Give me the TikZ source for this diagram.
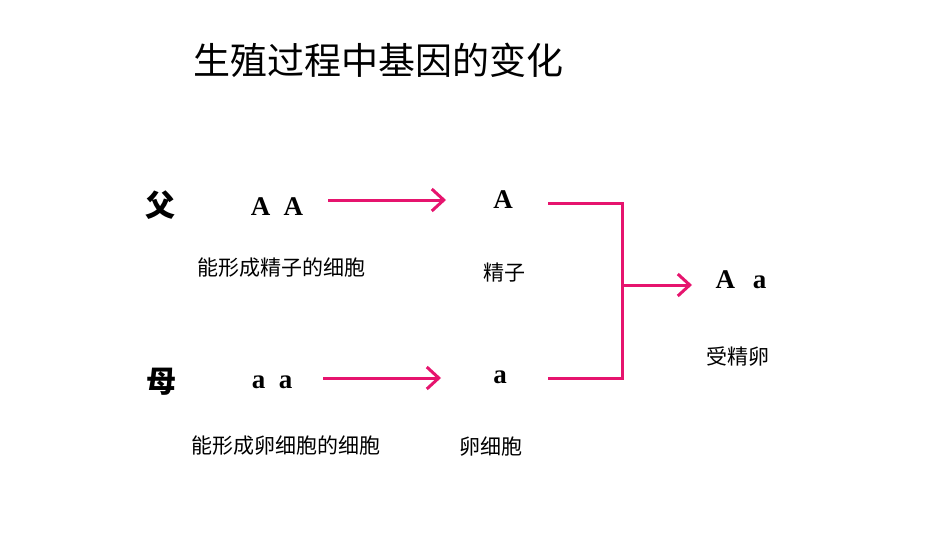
\documentclass[tikz,border=0pt]{standalone}
\usepackage{fontspec}
\setmainfont{Liberation Serif}
\newfontfamily\cjk{Noto Sans CJK SC}
\usetikzlibrary{arrows.meta}
\definecolor{mag}{RGB}{230,20,110}
\begin{document}
\begin{tikzpicture}[x=1pt,y=-1pt,
  cn/.style={font=\cjk\fontsize{21}{24}\selectfont},
  gene/.style={font=\bfseries\fontsize{27}{30}\selectfont},
  big/.style={font=\cjk\bfseries\fontsize{30}{34}\selectfont},
  link/.style={draw=mag,line width=3pt},
  arr/.style={link,-{Straight Barb[length=12pt,width=22pt,line width=3pt]}}]
\useasboundingbox (0,0) rectangle (950,535);
\node[font=\cjk\fontsize{37}{40}\selectfont] (title) at (378,60) {生殖过程中基因的变化};
\node[big] (fu) at (160,205) {父};
\node[gene] (AA) at (277,207) {A\ \ A};
\node[cn] (l1) at (281,268) {能形成精子的细胞};
\node[gene] (A) at (503,200) {A};
\node[cn] (l2) at (504,273) {精子};
\node[big] (mu) at (161,382) {母};
\node[gene] (aa) at (272,382) {a\ \ a};
\node[cn] (l3) at (286,446) {能形成卵细胞的细胞};
\node[gene] (a) at (500,377) {a};
\node[cn] (l4) at (491,447) {卵细胞};
\node[gene] (Aa) at (741,280) {A\ \ \,a};
\node[cn] (l5) at (738,357) {受精卵};
\coordinate (s1) at (328,200); \coordinate (e1) at (446,200);
\coordinate (s2) at (323,378); \coordinate (e2) at (441,378);
\coordinate (b1) at (548,203); \coordinate (b2) at (548,378);
\coordinate (m) at (622,285); \coordinate (e3) at (692,285);
\draw[arr] (s1) -- (e1);
\draw[arr] (s2) -- (e2);
\draw[link] (b1) -| (m) |- (b2);
\draw[arr] (m) -- (e3);
\end{tikzpicture}
\end{document}
